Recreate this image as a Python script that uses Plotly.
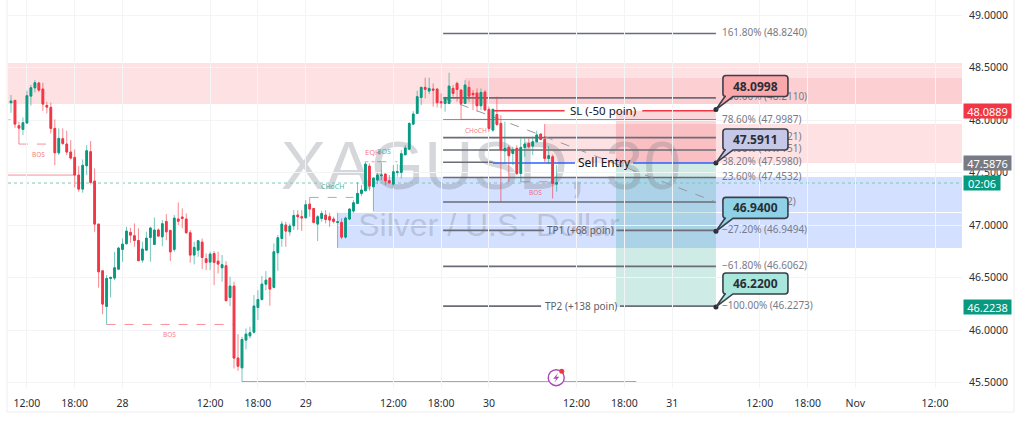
import plotly.graph_objects as go

opens = [48.165,48.187,47.946,47.911,47.971,48.228,48.307,48.352,48.295,48.139,48.120,47.920,47.688,47.822,47.771,47.695,47.644,47.476,47.342,47.565,47.698,47.418,47.009,46.564,46.225,46.491,46.495,46.580,46.768,46.822,46.930,46.898,46.853,46.666,46.761,46.882,46.815,46.952,46.888,47.034,46.949,46.768,47.057,47.076,47.057,46.926,46.714,46.761,46.837,46.679,46.647,46.729,46.656,46.593,46.612,46.310,46.418,45.733,45.640,45.904,45.945,45.980,46.215,46.291,46.437,46.495,46.406,46.736,46.872,47.000,46.936,46.993,47.095,47.079,47.069,47.199,47.158,47.009,47.063,47.095,47.079,47.057,47.025,47.025,46.885,47.057,47.133,47.206,47.301,47.326,47.561,47.364,47.428,47.469,47.485,47.422,47.390,47.501,47.501,47.669,47.723,47.961,48.063,48.215,48.311,48.276,48.295,48.295,48.174,48.158,48.158,48.301,48.349,48.285,48.158,48.311,48.254,48.257,48.136,48.266,48.101,47.904,48.053,47.968,47.707,47.739,47.682,47.730,47.491,47.739,47.777,47.752,47.793,47.866,47.815,47.634,47.650,47.390]
highs = [48.238,48.190,47.984,48.025,48.279,48.333,48.380,48.365,48.355,48.174,48.165,48.006,47.920,47.920,47.898,47.809,47.720,47.561,47.625,47.761,47.799,47.539,47.009,46.564,46.523,46.507,46.745,46.793,46.872,46.983,46.974,47.015,46.968,46.841,46.936,46.983,47.072,46.968,47.047,47.104,46.952,47.095,47.215,47.158,47.110,46.952,46.841,46.856,46.872,46.730,46.745,46.752,46.745,46.714,46.656,46.507,46.460,45.961,45.936,46.015,46.031,46.333,46.380,46.514,46.561,46.501,46.825,46.904,47.037,47.031,47.015,47.142,47.142,47.142,47.237,47.263,47.158,47.095,47.136,47.142,47.117,47.079,47.117,47.063,47.079,47.158,47.237,47.406,47.380,47.603,47.587,47.453,47.498,47.593,47.491,47.476,47.571,47.580,47.714,47.761,47.977,48.085,48.279,48.317,48.403,48.403,48.349,48.301,48.254,48.222,48.450,48.333,48.365,48.292,48.380,48.374,48.285,48.301,48.301,48.285,48.127,48.111,48.222,48.047,47.984,47.761,47.746,47.761,47.825,47.825,47.825,47.841,47.898,47.873,47.961,47.752,47.672,47.571]
lows = [48.069,47.926,47.771,47.857,47.971,48.136,48.263,48.269,48.088,48.063,47.873,47.571,47.666,47.761,47.666,47.625,47.358,47.317,47.307,47.476,47.387,46.936,46.403,46.152,46.053,46.310,46.475,46.571,46.650,46.815,46.831,46.793,46.660,46.641,46.761,46.650,46.815,46.888,46.799,46.857,46.657,46.745,47.000,46.968,46.920,46.641,46.625,46.698,46.580,46.571,46.571,46.428,46.539,46.460,46.279,46.228,45.634,45.612,45.507,45.815,45.920,45.967,46.095,46.279,46.380,46.231,46.396,46.564,46.793,46.793,46.898,46.952,46.952,46.945,47.063,47.079,47.015,46.847,47.031,47.015,46.983,47.015,46.783,46.866,46.872,47.047,47.117,47.199,47.276,47.326,47.326,47.133,47.390,47.428,47.380,47.390,47.358,47.460,47.444,47.666,47.714,47.952,48.063,48.142,48.206,48.247,48.127,48.120,48.111,48.079,48.152,48.222,48.174,48.006,48.158,48.174,48.095,48.079,48.095,48.095,47.888,47.888,47.942,47.222,47.587,47.412,47.571,47.476,47.412,47.650,47.730,47.666,47.787,47.809,47.603,47.580,47.253,47.317]
closes = [48.180,47.961,47.923,47.974,48.231,48.307,48.355,48.285,48.152,48.123,47.920,47.688,47.825,47.777,47.695,47.638,47.476,47.342,47.568,47.707,47.406,47.009,46.555,46.247,46.491,46.501,46.593,46.780,46.818,46.942,46.904,46.853,46.660,46.771,46.875,46.971,46.952,46.895,47.012,46.936,46.745,47.066,47.037,47.063,46.926,46.714,46.787,46.850,46.691,46.644,46.723,46.644,46.628,46.622,46.279,46.418,45.733,45.656,45.910,45.961,45.974,46.228,46.291,46.437,46.475,46.390,46.745,46.879,47.009,46.942,46.990,47.091,47.079,47.069,47.193,47.152,47.025,47.079,47.110,47.053,47.047,47.034,47.031,46.885,47.066,47.152,47.212,47.301,47.333,47.580,47.371,47.447,47.476,47.476,47.422,47.403,47.507,47.507,47.679,47.733,47.968,48.057,48.222,48.311,48.292,48.301,48.285,48.165,48.165,48.206,48.323,48.254,48.292,48.158,48.333,48.228,48.241,48.136,48.263,48.095,47.920,48.101,47.958,47.714,47.730,47.660,47.714,47.491,47.739,47.771,47.746,47.793,47.857,47.815,47.634,47.660,47.396,47.403]

tick_pos = [4,16,28,50,62,74,96,108,120,142,154,166,188,200,212,232]
tick_lab = ["12:00","18:00","28","12:00","18:00","29","12:00","18:00","30","12:00","18:00","31","12:00","18:00","Nov","12:00"]

fib_pct = ["161.80%","100.00%","78.60%","61.80%","50.00%","38.20%","23.60%","0.00%","−27.20%","−61.80%","−100.00%"]
fib_val = [48.8240,48.2110,47.9987,47.8321,47.7151,47.5980,47.4532,47.2192,46.9494,46.6062,46.2273]

callout_val = [48.0998,47.5911,46.9400,46.2200]
callout_fill = ["#fba8ac","#c5c8e6","#8fd2e6","#a9e6dc"]

sl_price, entry_price, tp2_price = 48.0889, 47.5911, 46.2200
last_price, live_price, low_price = 47.5876, 47.40, 46.2238
FIB_L, FIB_R, BOX_L = 108.5, 177, 151.9
X0, X1 = -0.75, 238.78
RED, GREEN, BLUE = "#f23645", "#089981", "#2962ff"
FONT = "Noto Sans"

fig = go.Figure()
x = list(range(len(opens)))
fig.add_trace(go.Candlestick(x=x, open=opens, high=highs, low=lows, close=closes, hoverinfo="skip",
    whiskerwidth=0,
    increasing=dict(line=dict(color="rgba(8,153,129,0.55)", width=1), fillcolor="rgba(0,0,0,0)"),
    decreasing=dict(line=dict(color="rgba(242,54,69,0.6)", width=1), fillcolor="rgba(0,0,0,0)")))
fig.add_trace(go.Candlestick(x=x, open=opens, close=closes, hoverinfo="skip",
    high=[max(a, b) for a, b in zip(opens, closes)], low=[min(a, b) for a, b in zip(opens, closes)],
    whiskerwidth=0,
    increasing=dict(line=dict(color=GREEN, width=1), fillcolor=GREEN),
    decreasing=dict(line=dict(color=RED, width=1), fillcolor=RED)))
fig.add_trace(go.Scatter(x=[FIB_R + 1.5]*len(fib_val), y=fib_val, mode="text", hoverinfo="skip",
    text=[f"{p} ({v:.4f})" for p, v in zip(fib_pct, fib_val)], textposition="middle right",
    textfont=dict(size=10, color="#787b86", family=FONT)))
fig.add_trace(go.Scatter(x=[FIB_R]*4, y=callout_val, mode="markers", hoverinfo="skip",
    marker=dict(size=5, color="#2a2e39")))

shapes = []
def rect(x0, x1, y0, y1, col):
    shapes.append(dict(type="rect", layer="below", x0=x0, x1=x1, y0=y0, y1=y1, xref="x", yref="y", fillcolor=col, line_width=0))
def seg(x0, x1, y, col, w=1, dash="solid", layer="below"):
    shapes.append(dict(type="line", layer=layer, x0=x0, x1=x1, y0=y, y1=y, xref="x", yref="y", line=dict(color=col, width=w, dash=dash)))

PALE = "rgba(242,54,69,0.15)"
LBLUE = "rgba(41,98,255,0.2)"
rect(X0, X1, 48.152, 48.543, PALE)
rect(114, X1, 48.152, 48.40, "rgba(242,54,69,0.1)")
rect(134, X1, 47.59, 47.962, PALE)
rect(91, X1, 47.124, 47.457, LBLUE)
rect(82, X1, 46.781, 47.114, LBLUE)
rect(BOX_L, FIB_R, entry_price, sl_price, "rgba(242,54,69,0.2)")
rect(BOX_L, FIB_R, tp2_price, entry_price, "rgba(8,153,129,0.2)")

# watermark as shape labels so that it sits behind the candles
WM = "rgba(120,123,134,0.3)"
shapes.append(dict(type="rect", layer="below", x0=58, x1=178, y0=47.23, y1=48.03, xref="x", yref="y", line_width=0, fillcolor="rgba(0,0,0,0)",
    label=dict(text="XAGUSD, 30", font=dict(size=68, color=WM, family="Liberation Sans"), textposition="middle center")))
shapes.append(dict(type="rect", layer="below", x0=60, x1=180, y0=46.83, y1=47.23, xref="x", yref="y", line_width=0, fillcolor="rgba(0,0,0,0)",
    label=dict(text="Silver / U.S. Dollar", font=dict(size=32, color=WM, family="Liberation Sans"), textposition="middle center")))

GREY = "#6a6d78"
for pct, v in zip(fib_pct, fib_val):
    if pct == "38.20%":
        seg(FIB_L, 121, v, GREY, 1.6)
    elif pct == "−27.20%":
        seg(FIB_L, 133.8, v, GREY, 1.6); seg(152, FIB_R, v, GREY, 1.6)
    elif pct == "−100.00%":
        seg(FIB_L, 133.1, v, GREY, 1.6); seg(152.9, FIB_R, v, GREY, 1.6)
    else:
        seg(FIB_L, FIB_R, v, GREY, 1.6)
seg(121, 139, sl_price, RED, 1.6); seg(158.5, FIB_R, sl_price, RED, 1.6)
seg(121, 141.6, entry_price, BLUE, 1.6); seg(156.2, FIB_R, entry_price, BLUE, 1.6)
shapes.append(dict(type="line", layer="below", x0=FIB_L, x1=FIB_R, y0=48.2110, y1=47.2192, xref="x", yref="y", line=dict(color="#9598a1", width=1, dash="dash")))

PINK = "rgba(242,54,69,0.55)"
TEAL = "rgba(8,153,129,0.55)"
seg(2, 11, 47.771, PINK, 1, "dash")
seg(X0, 0.8, 48.0, PINK, 1, "dot")
seg(X0, 16, 47.476, PINK, 1)
seg(24, 56, 46.053, PINK, 1, "dash")
seg(75, 86, 47.263, TEAL, 1, "dash")
seg(89, 92, 47.603, PINK, 1, "dot")
seg(92, 97, 47.603, TEAL, 1, "dash")
seg(113, 120, 48.006, PINK, 1)
seg(128, 136, 47.412, PINK, 1, "dash")
seg(58, 157, 45.507, "#6fc2b2", 1.5)
seg(X0, X1, live_price, "#7cc8ba", 1, "dot")

# callout bubbles
for v, c in zip(callout_val, callout_fill):
    shapes.append(dict(type="path", layer="above", xref="x", yref="y", xsizemode="pixel", ysizemode="pixel",
        xanchor=FIB_R, yanchor=v, fillcolor=c, line=dict(color="#3a3f4a", width=1.6),
        path="M 0 0 L 9 13 L 10 13 Q 7 13 7 16 L 7 31 Q 7 34 10 34 L 69 34 Q 72 34 72 31 L 72 16 Q 72 13 69 13 L 17 13 Z"))

# alert icon
ICON_X, ICON_Y = 136.9, 45.546
shapes.append(dict(type="circle", layer="above", xref="x", yref="y", xsizemode="pixel", ysizemode="pixel", xanchor=ICON_X, yanchor=ICON_Y,
    x0=-8, x1=8, y0=-8, y1=8, fillcolor="white", line=dict(color="#ab47bc", width=1.4)))
shapes.append(dict(type="path", layer="above", xref="x", yref="y", xsizemode="pixel", ysizemode="pixel", xanchor=ICON_X, yanchor=ICON_Y,
    path="M 2 5 L -3 -1 L 0 -1 L -2 -5 L 3 1 L 0 1 Z", fillcolor="#ab47bc", line_width=0))
shapes.append(dict(type="circle", layer="above", xref="x", yref="y", xsizemode="pixel", ysizemode="pixel", xanchor=ICON_X, yanchor=ICON_Y,
    x0=3, x1=8, y0=4, y1=9, fillcolor=RED, line_width=0))

# outer frame
P = dict(xref="paper", yref="paper", type="line", layer="below", line=dict(color="#eeeeee", width=1))
shapes.append(dict(P, x0=-0.001, x1=-0.001, y0=-0.062, y1=1))
shapes.append(dict(P, x0=-0.001, x1=1.0545, y0=-0.062, y1=-0.062))
shapes.append(dict(P, x0=1.0545, x1=1.0545, y0=-0.062, y1=1))

ann = []
def note(xv, yv, text, size, col, anchor="center", xshift=0, yshift=0, family=FONT):
    ann.append(dict(x=xv, y=yv, xref="x", yref="y", text=text, showarrow=False, xanchor=anchor, yanchor="middle",
                    font=dict(size=size, color=col, family=family), xshift=xshift, yshift=yshift))

for v in callout_val:
    note(FIB_R, v, f"<b>{v:.4f}</b>", 12, "#2a2e39", "center", xshift=39.5, yshift=23.5)

note(148.6, sl_price, "SL (-50 poin)", 11.5, "#131722")
note(149.1, entry_price, "Sell Entry", 12, "#131722")
note(143, 46.9494, "TP1 (+68 poin)", 10, "#5d606b")
note(143, 46.2273, "TP2 (+138 poin)", 10, "#5d606b")

L_RED, L_TEAL = "rgba(242,54,69,0.7)", "rgba(8,153,129,0.75)"
note(6.8, 47.676, "BOS", 6.5, L_RED)
note(39.9, 45.962, "BOS", 6.5, L_RED)
note(80.8, 47.371, "CHoCH", 7, L_TEAL)
note(90.9, 47.695, "EQH", 7.5, L_RED)
note(93.6, 47.705, "BOS", 7, L_TEAL)
note(116.7, 47.905, "CHoCH", 6.5, L_RED)
note(131.8, 47.314, "BOS", 6.5, L_RED)

def price_tag(y, text, col, w):
    ann.append(dict(x=1, y=y, xref="paper", yref="y", text=text, showarrow=False, xanchor="left", yanchor="middle", xshift=1,
                    width=w, height=14, bgcolor=col, align="center", font=dict(size=11, color="white", family=FONT), borderpad=0))
price_tag(sl_price, f"{sl_price:.4f}", RED, 47)
price_tag(last_price, f"{last_price:.4f}", "#787b86", 47)
price_tag(low_price, f"{low_price:.4f}", GREEN, 47)
price_tag(live_price, "02:06", GREEN, 36)

fig.update_layout(
    width=1024, height=428, autosize=False,
    margin=dict(l=8, r=62, t=0, b=40),
    paper_bgcolor="white", plot_bgcolor="white",
    showlegend=False, boxmode="overlay", boxgap=0.4,
    shapes=shapes, annotations=ann,
    font=dict(family=FONT, size=10.5, color="#2a2e39"),
    xaxis=dict(range=[X0, X1], type="linear", tickvals=tick_pos, ticktext=tick_lab, showgrid=True, gridcolor="#f3f4f6",
               zeroline=False, showline=False, ticks="outside", ticklen=5, tickcolor="white", rangeslider=dict(visible=False), layer="below traces"),
    yaxis=dict(range=[45.448, 49.143], side="right", dtick=0.5, tick0=45.5, tickformat=".4f", showgrid=True, gridcolor="#f3f4f6",
               zeroline=False, showline=False, ticks="outside", ticklen=4, tickcolor="white", layer="below traces"),
)

fig.write_html("out.html", config=dict(displayModeBar=False),
               post_script="document.body.style.margin='0';document.body.style.overflow='hidden';")
